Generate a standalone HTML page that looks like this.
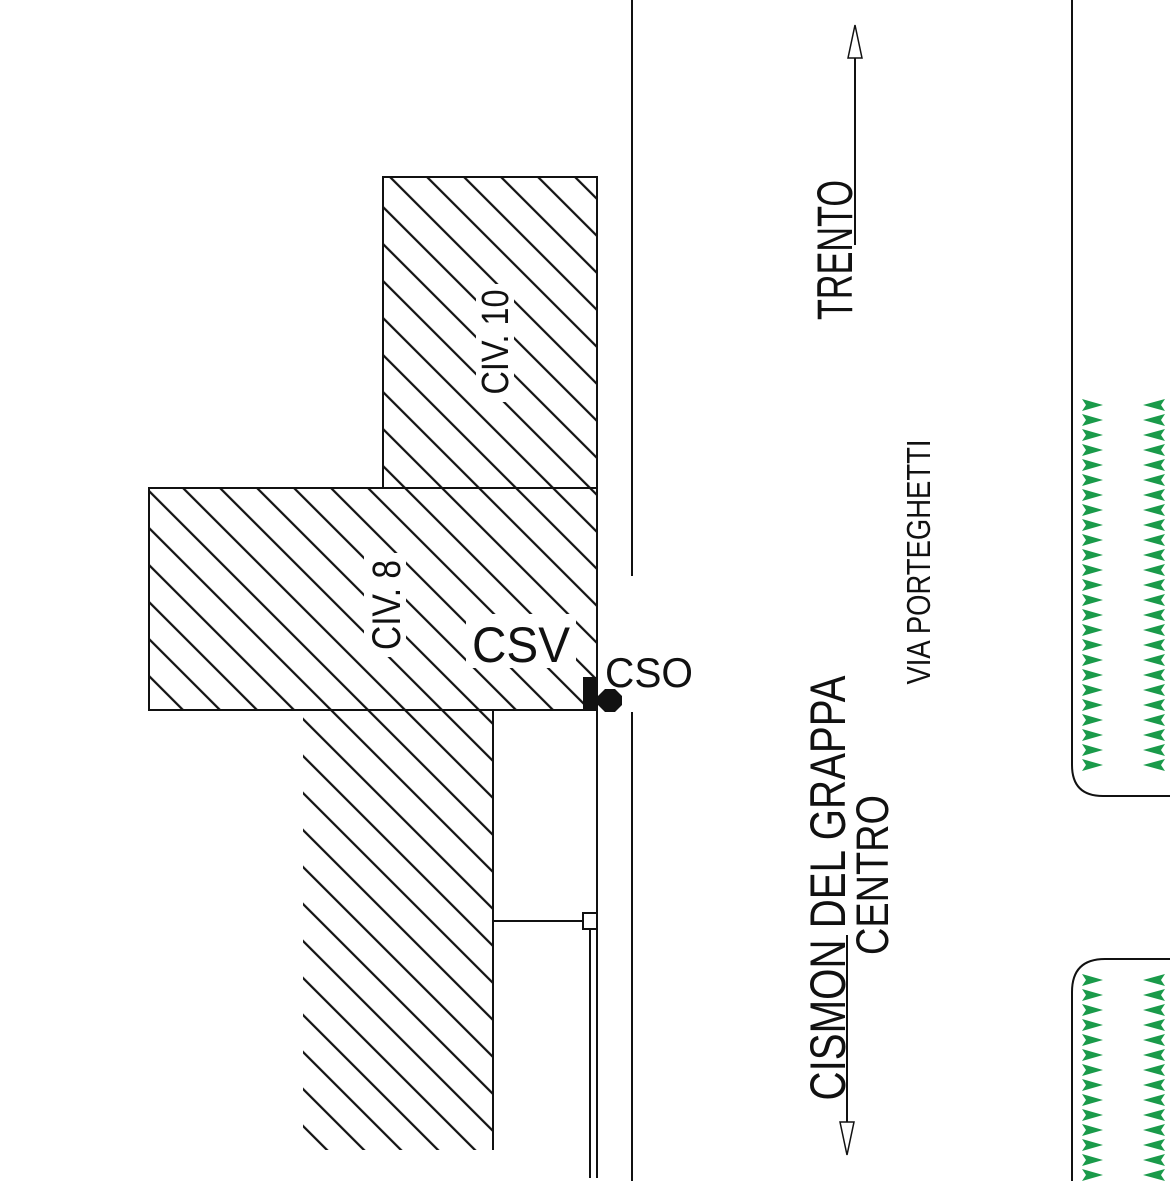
<!DOCTYPE html>
<html><head><meta charset="utf-8"><style>html,body{margin:0;padding:0;background:#fff}svg{display:block}</style></head>
<body>
<svg width="1173" height="1181" viewBox="0 0 1173 1181" xmlns="http://www.w3.org/2000/svg" font-family="Liberation Sans, sans-serif">
<defs>
<pattern id="h" patternUnits="userSpaceOnUse" width="26.163" height="30" patternTransform="rotate(-45)">
<line x1="19.8" y1="-1" x2="19.8" y2="31" stroke="#111" stroke-width="2.2"/>
</pattern>
<clipPath id="c"><rect x="303" y="710" width="190" height="440"/></clipPath>
<g id="tr"><path d="M0,0 L21,6 L0,12 L4,6 Z" fill="#1a9a4a"/></g>
<g id="tl"><path d="M22,0 L0,6 L22,12 L18,6 Z" fill="#1a9a4a"/></g>
</defs>
<rect x="383" y="177" width="214" height="311" fill="url(#h)" stroke="#111" stroke-width="2"/>
<rect x="149" y="488" width="448" height="222" fill="url(#h)" stroke="#111" stroke-width="2"/>
<rect x="303" y="711" width="190" height="439" fill="url(#h)" clip-path="url(#c)"/>
<g fill="#fff">
<rect x="476" y="284" width="38" height="118"/>
<rect x="364" y="553" width="42" height="104"/>
<rect x="466" y="614" width="110" height="54"/>
</g>
<g stroke="#111" stroke-width="2" fill="none">
<line x1="597" y1="488" x2="597" y2="710"/>
<line x1="493" y1="710" x2="493" y2="1150"/>
<line x1="632" y1="0" x2="632" y2="576"/>
<line x1="632" y1="712" x2="632" y2="1181"/>
<line x1="597" y1="177" x2="597" y2="1178"/>
<line x1="590" y1="928" x2="590" y2="1178"/>
<line x1="493" y1="921" x2="583" y2="921"/>
<rect x="583" y="913" width="14" height="16"/>
<path d="M1072,0 V765 Q1072,796 1103,796 H1170"/>
<path d="M1170,959 H1105 Q1072,959 1072,992 V1181"/>
<line x1="855" y1="58" x2="855" y2="245"/>
<path d="M848,58 L855,25 L862,58 Z" stroke-width="1.5"/>
<line x1="847" y1="935" x2="847" y2="1122"/>
<path d="M840,1122 L847,1155 L854,1122 Z" stroke-width="1.5"/>
</g>
<rect x="583" y="677" width="14" height="33" fill="#111"/>
<polygon points="605,689 615,689 622,696 622,705 615,712 605,712 598,705 598,696" fill="#111"/>
<g fill="#111">
<text x="472" y="662" font-size="50" textLength="98" lengthAdjust="spacingAndGlyphs">CSV</text>
<text x="605" y="687" font-size="42" textLength="88" lengthAdjust="spacingAndGlyphs">CSO</text>
<text transform="translate(852,250) rotate(-90)" text-anchor="middle" font-size="50" textLength="140" lengthAdjust="spacingAndGlyphs">TRENTO</text>
<text transform="translate(845,888) rotate(-90)" text-anchor="middle" font-size="50" textLength="425" lengthAdjust="spacingAndGlyphs">CISMON DEL GRAPPA</text>
<text transform="translate(888,875) rotate(-90)" text-anchor="middle" font-size="45" textLength="160" lengthAdjust="spacingAndGlyphs">CENTRO</text>
<text transform="translate(930,562) rotate(-90)" text-anchor="middle" font-size="33" textLength="245" lengthAdjust="spacingAndGlyphs">VIA PORTEGHETTI</text>
<text transform="translate(508,342) rotate(-90)" text-anchor="middle" font-size="38" textLength="105" lengthAdjust="spacingAndGlyphs">CIV. 10</text>
<text transform="translate(400,605) rotate(-90)" text-anchor="middle" font-size="40" textLength="90" lengthAdjust="spacingAndGlyphs">CIV. 8</text>
</g>
<g>
<use href="#tr" x="1082" y="399"/><use href="#tr" x="1082" y="414"/><use href="#tr" x="1082" y="429"/><use href="#tr" x="1082" y="444"/><use href="#tr" x="1082" y="459"/><use href="#tr" x="1082" y="474"/><use href="#tr" x="1082" y="489"/><use href="#tr" x="1082" y="504"/><use href="#tr" x="1082" y="519"/><use href="#tr" x="1082" y="534"/><use href="#tr" x="1082" y="549"/><use href="#tr" x="1082" y="564"/><use href="#tr" x="1082" y="579"/><use href="#tr" x="1082" y="594"/><use href="#tr" x="1082" y="609"/><use href="#tr" x="1082" y="624"/><use href="#tr" x="1082" y="639"/><use href="#tr" x="1082" y="654"/><use href="#tr" x="1082" y="669"/><use href="#tr" x="1082" y="684"/><use href="#tr" x="1082" y="699"/><use href="#tr" x="1082" y="714"/><use href="#tr" x="1082" y="729"/><use href="#tr" x="1082" y="744"/><use href="#tr" x="1082" y="759"/>
<use href="#tl" x="1143" y="399"/><use href="#tl" x="1143" y="414"/><use href="#tl" x="1143" y="429"/><use href="#tl" x="1143" y="444"/><use href="#tl" x="1143" y="459"/><use href="#tl" x="1143" y="474"/><use href="#tl" x="1143" y="489"/><use href="#tl" x="1143" y="504"/><use href="#tl" x="1143" y="519"/><use href="#tl" x="1143" y="534"/><use href="#tl" x="1143" y="549"/><use href="#tl" x="1143" y="564"/><use href="#tl" x="1143" y="579"/><use href="#tl" x="1143" y="594"/><use href="#tl" x="1143" y="609"/><use href="#tl" x="1143" y="624"/><use href="#tl" x="1143" y="639"/><use href="#tl" x="1143" y="654"/><use href="#tl" x="1143" y="669"/><use href="#tl" x="1143" y="684"/><use href="#tl" x="1143" y="699"/><use href="#tl" x="1143" y="714"/><use href="#tl" x="1143" y="729"/><use href="#tl" x="1143" y="744"/><use href="#tl" x="1143" y="759"/>
<use href="#tr" x="1082" y="974"/><use href="#tr" x="1082" y="989"/><use href="#tr" x="1082" y="1004"/><use href="#tr" x="1082" y="1019"/><use href="#tr" x="1082" y="1034"/><use href="#tr" x="1082" y="1049"/><use href="#tr" x="1082" y="1064"/><use href="#tr" x="1082" y="1079"/><use href="#tr" x="1082" y="1094"/><use href="#tr" x="1082" y="1109"/><use href="#tr" x="1082" y="1124"/><use href="#tr" x="1082" y="1139"/><use href="#tr" x="1082" y="1154"/><use href="#tr" x="1082" y="1169"/>
<use href="#tl" x="1143" y="974"/><use href="#tl" x="1143" y="989"/><use href="#tl" x="1143" y="1004"/><use href="#tl" x="1143" y="1019"/><use href="#tl" x="1143" y="1034"/><use href="#tl" x="1143" y="1049"/><use href="#tl" x="1143" y="1064"/><use href="#tl" x="1143" y="1079"/><use href="#tl" x="1143" y="1094"/><use href="#tl" x="1143" y="1109"/><use href="#tl" x="1143" y="1124"/><use href="#tl" x="1143" y="1139"/><use href="#tl" x="1143" y="1154"/><use href="#tl" x="1143" y="1169"/>
</g>
</svg>
</body></html>
